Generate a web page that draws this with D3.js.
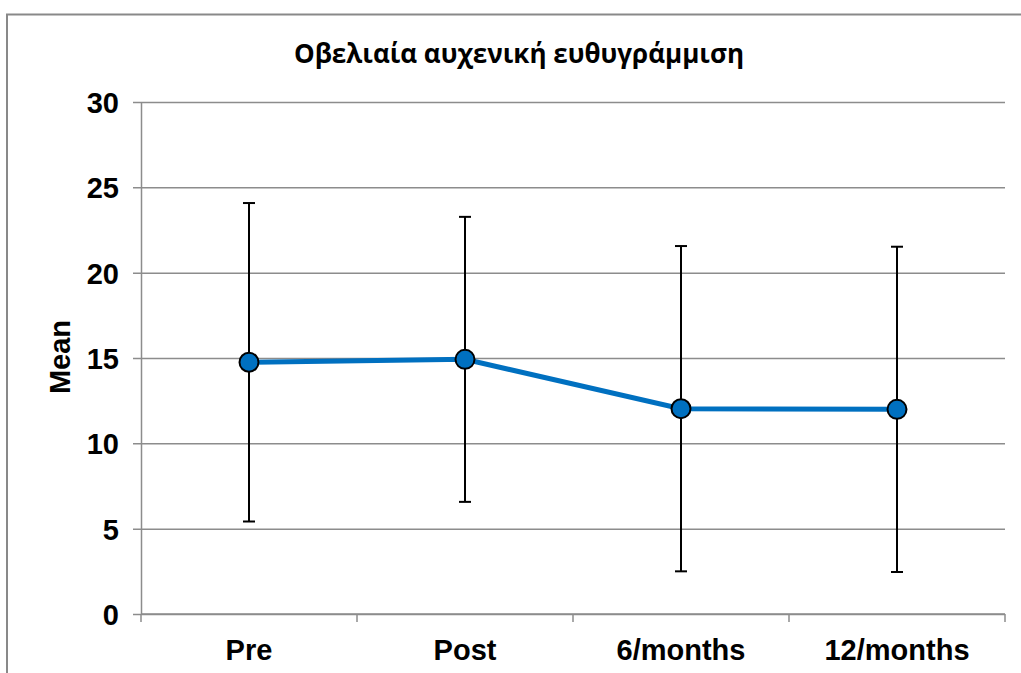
<!DOCTYPE html>
<html>
<head>
<meta charset="utf-8">
<script src="https://cdn.jsdelivr.net/npm/d3@7"></script>
<style>
  html, body { margin: 0; padding: 0; background: #fff; }
  svg { display: block; }
</style>
</head>
<body>
<svg id="chart" width="1021" height="673"></svg>
<script>
// Mean score at each time point with ±SD error bars
const categories = ["Pre", "Post", "6/months", "12/months"];
const means = [14.75, 14.92, 12.03, 11.99];
const sds = [9.33, 8.35, 9.53, 9.53];
const yTicks = [0, 5, 10, 15, 20, 25, 30];
const title = "Οβελιαία αυχενική ευθυγράμμιση";
const yTitle = "Mean";

const svg = d3.select("#chart");
const W = 1021, H = 673;
const plot = { left: 141, right: 1005, top: 102, bottom: 614 };

const gridColor = "#8c8c8c";
const lineColor = "#0070C0";
const labelFont = "'Liberation Sans', Arial, sans-serif";
const labelSize = 29;

// outer chart frame (continues past the right and bottom edges)
svg.append("rect")
  .attr("x", 7).attr("y", 14.5)
  .attr("width", W + 20).attr("height", H + 20)
  .attr("fill", "#fff")
  .attr("stroke", "#898989").attr("stroke-width", 2);

const x = d3.scaleBand().domain(categories).range([plot.left, plot.right]).padding(0);
const y = d3.scaleLinear().domain([0, 30]).range([plot.bottom, plot.top]);
const cx = d => x(d) + x.bandwidth() / 2;

// horizontal gridlines + y axis
const yAxis = d3.axisLeft(y).tickValues(yTicks).tickSize(-(plot.right - plot.left)).tickSizeOuter(0).tickPadding(22);
const gy = svg.append("g").attr("transform", `translate(${plot.left},0)`).call(yAxis);
gy.select(".domain").attr("stroke", gridColor).attr("stroke-width", 1.5);
gy.selectAll(".tick line").attr("stroke", gridColor).attr("stroke-width", 1.5)
  .attr("x1", -8);
gy.selectAll(".tick text")
  .attr("font-family", labelFont).attr("font-weight", "bold").attr("font-size", labelSize)
  .attr("fill", "#000").attr("dy", "0.36em");

// x axis with ticks at category boundaries
const gx = svg.append("g").attr("transform", `translate(0,${plot.bottom})`);
gx.append("line").attr("x1", plot.left).attr("x2", plot.right)
  .attr("stroke", gridColor).attr("stroke-width", 1.5);
const bounds = categories.map(c => x(c)).concat([plot.right]);
gx.selectAll("line.tk").data(bounds).join("line").attr("class", "tk")
  .attr("x1", d => d).attr("x2", d => d).attr("y1", 0).attr("y2", 8)
  .attr("stroke", gridColor).attr("stroke-width", 1.5);
gx.selectAll("text").data(categories).join("text")
  .attr("x", d => cx(d)).attr("y", 46)
  .attr("text-anchor", "middle")
  .attr("font-family", labelFont).attr("font-weight", "bold").attr("font-size", labelSize)
  .attr("fill", "#000").text(d => d);

// error bars
const rows = categories.map((c, i) => ({ c, m: means[i], s: sds[i] }));
const eb = svg.append("g").attr("stroke", "#000").attr("stroke-width", 2);
rows.forEach(r => {
  const xc = cx(r.c);
  eb.append("line").attr("x1", xc).attr("x2", xc).attr("y1", y(r.m + r.s)).attr("y2", y(r.m - r.s));
  eb.append("line").attr("x1", xc - 6).attr("x2", xc + 6).attr("y1", y(r.m + r.s)).attr("y2", y(r.m + r.s));
  eb.append("line").attr("x1", xc - 6).attr("x2", xc + 6).attr("y1", y(r.m - r.s)).attr("y2", y(r.m - r.s));
});

// mean line
svg.append("path").datum(rows)
  .attr("d", d3.line().x(d => cx(d.c)).y(d => y(d.m)))
  .attr("fill", "none").attr("stroke", lineColor).attr("stroke-width", 5);

// markers
svg.selectAll("circle.pt").data(rows).join("circle").attr("class", "pt")
  .attr("cx", d => cx(d.c)).attr("cy", d => y(d.m)).attr("r", 9.5)
  .attr("fill", lineColor).attr("stroke", "#000").attr("stroke-width", 2);

// titles
svg.append("text").attr("x", 519).attr("y", 63).attr("text-anchor", "middle")
  .attr("font-family", "'Open Sans', sans-serif").attr("font-weight", "bold").attr("font-size", 26)
  .attr("fill", "#000").text(title);

svg.append("text").attr("transform", "translate(70,357) rotate(-90)")
  .attr("text-anchor", "middle")
  .attr("font-family", labelFont).attr("font-weight", "bold").attr("font-size", labelSize)
  .attr("fill", "#000").text(yTitle);
</script>
</body>
</html>
